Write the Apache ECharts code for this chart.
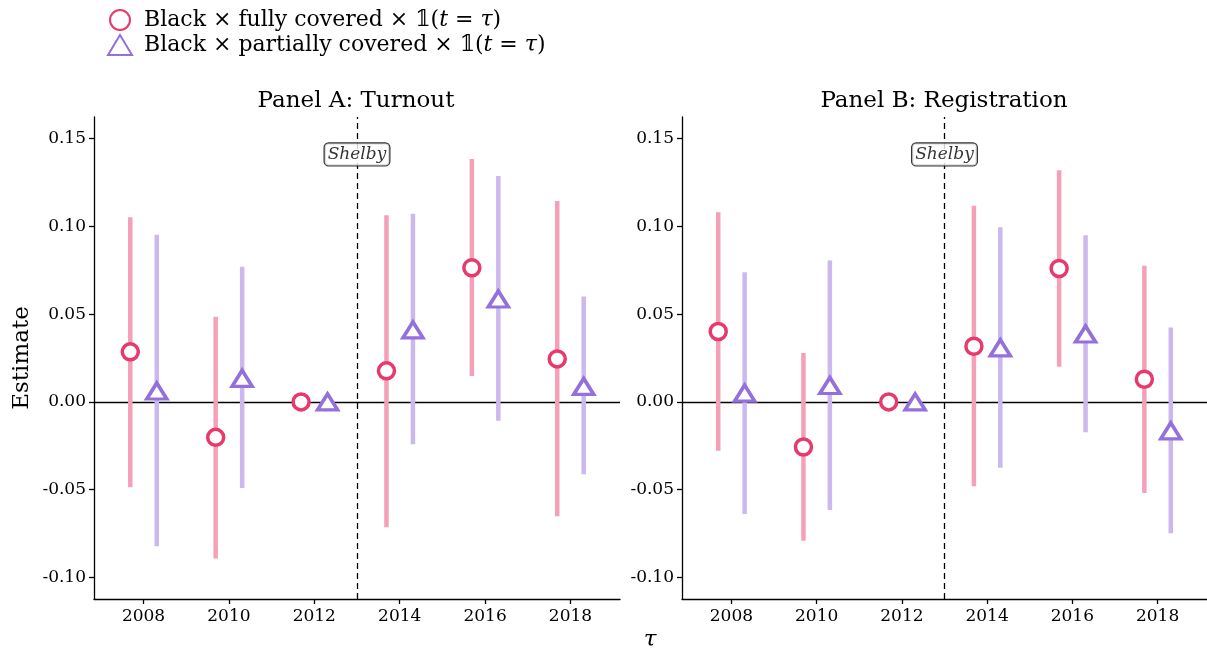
<!DOCTYPE html>
<html>
<head>
<meta charset="utf-8">
<script src="https://cdn.jsdelivr.net/npm/echarts@6/dist/echarts.min.js"></script>
<style>html,body{margin:0;padding:0;background:#fff}#c{width:1207px;height:655px}</style>
</head>
<body>
<div id="c"></div>
<script>
// ---- data ----
const years = [2008, 2010, 2012, 2014, 2016, 2018];
const yTicks = [-0.10, -0.05, 0.00, 0.05, 0.10, 0.15];
const shelbyYear = 2013;

// Panel A: Turnout
const turnoutFull    = [0.0285, -0.0202, 0, 0.0177, 0.0764, 0.0245];
const turnoutFullLo  = [-0.0487, -0.0892, null, -0.0714, 0.0147, -0.0652];
const turnoutFullHi  = [0.1052, 0.0485, null, 0.1063, 0.1384, 0.1144];
const turnoutPart    = [0.0062, 0.0134, 0, 0.0410, 0.0586, 0.0088];
const turnoutPartLo  = [-0.0823, -0.0490, null, -0.0241, -0.0108, -0.0412];
const turnoutPartHi  = [0.0952, 0.0770, null, 0.1072, 0.1287, 0.0601];

// Panel B: Registration
const regFull    = [0.0401, -0.0257, 0, 0.0317, 0.0760, 0.0129];
const regFullLo  = [-0.0278, -0.0791, null, -0.0481, 0.0200, -0.0519];
const regFullHi  = [0.1081, 0.0279, null, 0.1117, 0.1320, 0.0775];
const regPart    = [0.0050, 0.0093, 0, 0.0308, 0.0387, -0.0165];
const regPartLo  = [-0.0639, -0.0616, null, -0.0375, -0.0173, -0.0749];
const regPartHi  = [0.0739, 0.0806, null, 0.0995, 0.0950, 0.0424];

// ---- styles ----
const OFF = 0.31;
const PINK = '#E8396D', PINK_L = '#F4A0B8';
const PURP = '#9370DB', PURP_L = '#CBB8EE';
const SERIF = '"DejaVu Serif", "Liberation Serif", serif';
const NAME_FULL = 'full';
const NAME_PART = 'part';

function pts(vals, dx) { return years.map((y, i) => [y + dx, vals[i]]); }
function bars(lo, hi, dx) {
  const out = [];
  years.forEach((y, i) => { if (lo[i] != null) out.push([y + dx, lo[i], hi[i]]); });
  return out;
}
function errSeries(idx, lo, hi, dx, color) {
  return {
    type: 'custom', xAxisIndex: idx, yAxisIndex: idx, silent: true, z: 2,
    encode: { x: 0, y: [1, 2] },
    data: bars(lo, hi, dx),
    renderItem: function (params, api) {
      const a = api.coord([api.value(0), api.value(1)]);
      const b = api.coord([api.value(0), api.value(2)]);
      return { type: 'line', shape: { x1: a[0], y1: a[1], x2: b[0], y2: b[1] },
               style: { stroke: color, lineWidth: 4.5 } };
    }
  };
}
function circleSeries(idx, vals, name) {
  return {
    name: name, type: 'scatter', xAxisIndex: idx, yAxisIndex: idx, z: 5,
    symbol: 'circle', symbolSize: 16,
    itemStyle: { color: '#fff', borderColor: PINK, borderWidth: 3.5, opacity: 1 },
    data: pts(vals, -OFF)
  };
}
function triSeries(idx, vals, name) {
  return {
    name: name, type: 'scatter', xAxisIndex: idx, yAxisIndex: idx, z: 5,
    symbol: 'triangle', symbolSize: [20, 16],
    itemStyle: { color: '#fff', borderColor: PURP, borderWidth: 3.5, borderJoin: 'miter', opacity: 1 },
    data: pts(vals, OFF)
  };
}
function refLines(idx) {
  return {
    type: 'scatter', xAxisIndex: idx, yAxisIndex: idx, z: 6, silent: true,
    symbolSize: 0,
    data: [[shelbyYear, 0.141]],
    label: {
      show: true, position: 'inside', formatter: 'Shelby',
      fontFamily: SERIF, fontStyle: 'italic', fontSize: 17, color: '#000',
      backgroundColor: '#fff', borderColor: '#000', borderWidth: 1.2, borderRadius: 4,
      padding: [3, 3, 2, 3]
    },
    markLine: {
      silent: true, symbol: 'none', z: 1, animation: false,
      label: { show: false },
      data: [
        { yAxis: 0, lineStyle: { color: '#000', width: 1.3, type: 'solid' } },
        { xAxis: shelbyYear, lineStyle: { color: '#000', width: 1.3, type: [6, 4] } }
      ]
    }
  };
}
function xAxis(idx) {
  return {
    type: 'value', gridIndex: idx, min: 2006.84, max: 2019.16,
    axisLine: { show: true, onZero: false, lineStyle: { color: '#000', width: 1.3 } },
    axisTick: { show: true, length: 5, customValues: years, lineStyle: { color: '#000', width: 1.3 } },
    axisLabel: { customValues: years, color: '#000', fontFamily: SERIF, fontSize: 17, margin: 9,
                 formatter: v => String(v) },
    splitLine: { show: false }
  };
}
function yAxis(idx) {
  return {
    type: 'value', gridIndex: idx, min: -0.1123, max: 0.1623,
    axisLine: { show: true, onZero: false, lineStyle: { color: '#000', width: 1.3 } },
    axisTick: { show: true, length: 5, customValues: yTicks, lineStyle: { color: '#000', width: 1.3 } },
    axisLabel: { customValues: yTicks, color: '#000', fontFamily: SERIF, fontSize: 17, margin: 8,
                 formatter: v => v.toFixed(2) },
    splitLine: { show: false }
  };
}

const chart = echarts.init(document.getElementById('c'), null, { renderer: 'canvas' });
const richTxt = {
  n: { fontFamily: SERIF, fontSize: 22, color: '#000' },
  i: { fontFamily: SERIF, fontSize: 22, fontStyle: 'italic', color: '#000' }
};
chart.setOption({
  animation: false,
  backgroundColor: '#fff',
  grid: [
    { left: 94, width: 526, top: 117, height: 482 },
    { left: 682, width: 526, top: 117, height: 482 }
  ],
  xAxis: [xAxis(0), xAxis(1)],
  yAxis: [yAxis(0), yAxis(1)],
  legend: {
    orient: 'vertical', left: 107, top: 9, padding: 0, itemGap: 3, itemWidth: 24, itemHeight: 20,
    selectedMode: false,
    data: [NAME_FULL, NAME_PART],
    formatter: function (name) {
      return name === NAME_FULL
        ? '{n|Black × fully covered × 𝟙(}{i|t}{n| = }{i|τ}{n|)}'
        : '{n|Black × partially covered × 𝟙(}{i|t}{n| = }{i|τ}{n|)}';
    },
    textStyle: { rich: richTxt, padding: [0, 0, 0, 7] }
  },
  graphic: [
    { type: 'text', x: 356, y: 101, style: { text: 'Panel A: Turnout', font: '23px ' + SERIF, fill: '#000', align: 'center', verticalAlign: 'middle' } },
    { type: 'text', x: 944, y: 101, style: { text: 'Panel B: Registration', font: '23px ' + SERIF, fill: '#000', align: 'center', verticalAlign: 'middle' } },
    { type: 'text', x: 22, y: 358, rotation: Math.PI / 2, style: { text: 'Estimate', font: '23px ' + SERIF, fill: '#000', align: 'center', verticalAlign: 'middle' } },
    { type: 'text', x: 650, y: 640, style: { text: 'τ', font: 'italic 23px ' + SERIF, fill: '#000', align: 'center', verticalAlign: 'middle' } }
  ],
  series: [
    refLines(0), refLines(1),
    errSeries(0, turnoutFullLo, turnoutFullHi, -OFF, PINK_L),
    errSeries(0, turnoutPartLo, turnoutPartHi, OFF, PURP_L),
    errSeries(1, regFullLo, regFullHi, -OFF, PINK_L),
    errSeries(1, regPartLo, regPartHi, OFF, PURP_L),
    circleSeries(0, turnoutFull, NAME_FULL),
    triSeries(0, turnoutPart, NAME_PART),
    circleSeries(1, regFull, NAME_FULL),
    triSeries(1, regPart, NAME_PART)
  ]
});
</script>
</body>
</html>
